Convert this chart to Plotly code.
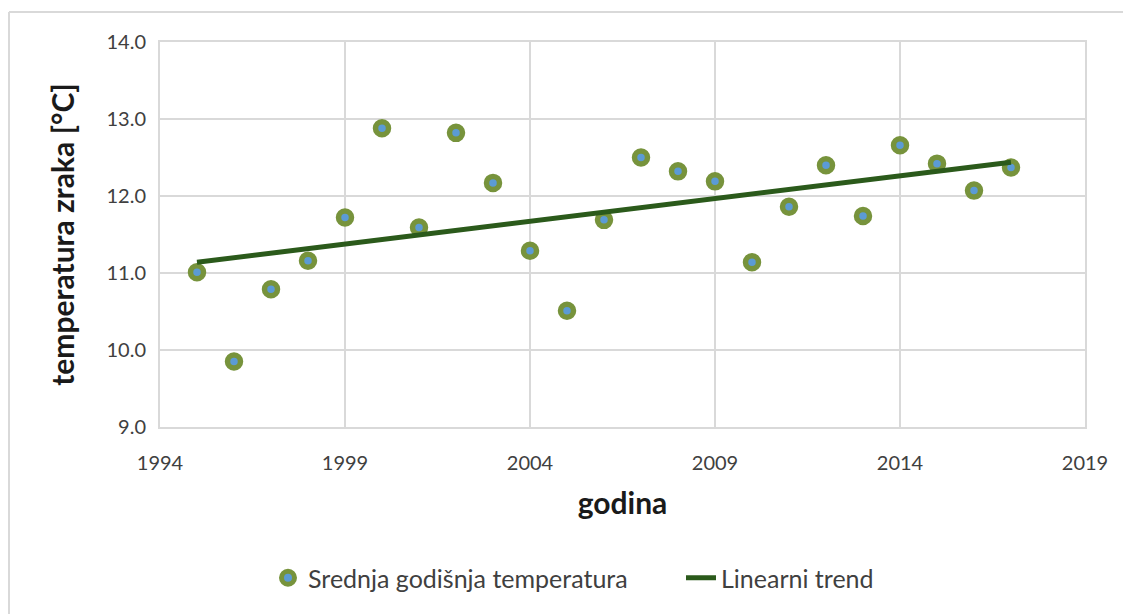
import numpy as np
import plotly.graph_objects as go

years = list(range(1995, 2018))
temps = [11.01, 9.85, 10.79, 11.16, 11.72, 12.88, 11.59, 12.82, 12.17, 11.29,
         10.51, 11.69, 12.50, 12.32, 12.19, 11.14, 11.86, 12.40, 11.74, 12.66,
         12.42, 12.07, 12.37]
x_ticks = [1994, 1999, 2004, 2009, 2014, 2019]
y_ticks = [9.0, 10.0, 11.0, 12.0, 13.0, 14.0]

slope, intercept = np.polyfit(years, temps, 1)
trend_x = [years[0], years[-1]]
trend_y = [slope * v + intercept for v in trend_x]

W, H = 1131, 614
OFF = 8  # page offset
L, T = 160 - OFF, 42 - OFF
pw, ph = 925, 385
R, B = W - L - pw, H - T - ph

FONT = "Lato"
grid = "#D9D9D9"

fig = go.Figure()
fig.add_trace(go.Scatter(
    x=years, y=temps, mode="markers", name="Srednja godišnja temperatura",
    marker=dict(size=13, color="#5B9BD5", line=dict(color="#77933C", width=5.5)),
))
fig.add_trace(go.Scatter(
    x=trend_x, y=trend_y, mode="lines", name="Linearni trend",
    line=dict(color="#2B5A1B", width=5),
))

fig.update_layout(
    width=W, height=H,
    margin=dict(l=L, r=R, t=T, b=B),
    paper_bgcolor="white", plot_bgcolor="white",
    font=dict(family=FONT, color="#404040"),
    showlegend=True,
    legend=dict(orientation="h", x=(268 - 160) / pw, xanchor="left", y=(427 - 578) / ph,
                yanchor="middle", font=dict(size=25, color="#404040", family=FONT),
                tracegroupgap=0, entrywidth=368, entrywidthmode="pixels"),
    shapes=[
        dict(type="line", xref="paper", yref="paper",
             x0=(9 - 160) / pw, x1=(W + 20 - 160) / pw,
             y0=1 + (42 - 12) / ph, y1=1 + (42 - 12) / ph,
             line=dict(color=grid, width=2)),
        dict(type="line", xref="paper", yref="paper",
             x0=(9 - 160) / pw, x1=(9 - 160) / pw,
             y0=1 + (42 - 12) / ph, y1=1 - (H + 20 - 42) / ph,
             line=dict(color=grid, width=2)),
    ],
)
fig.update_xaxes(
    range=[1994, 2019], tickvals=x_ticks, ticktext=[str(v) for v in x_ticks],
    showgrid=True, gridcolor=grid, gridwidth=1.5,
    showline=True, linecolor=grid, linewidth=2, mirror=True,
    zeroline=False, ticks="", ticklabelstandoff=17,
    tickfont=dict(size=20, color="#404040", family=FONT),
    title=dict(text="<b>godina</b>", font=dict(size=30, color="#1a1a1a", family=FONT),
               standoff=20),
)
fig.update_yaxes(
    range=[9, 14], tickvals=y_ticks, ticktext=[f"{v:.1f}" for v in y_ticks],
    showgrid=True, gridcolor=grid, gridwidth=1.5,
    showline=True, linecolor=grid, linewidth=2, mirror=True,
    zeroline=False, ticks="", ticklabelstandoff=8,
    tickfont=dict(size=20, color="#404040", family=FONT),
    title=dict(text="<b>temperatura zraka [°C]</b>",
               font=dict(size=30, color="#1a1a1a", family=FONT), standoff=23),
)

fig.write_html("out.html")
